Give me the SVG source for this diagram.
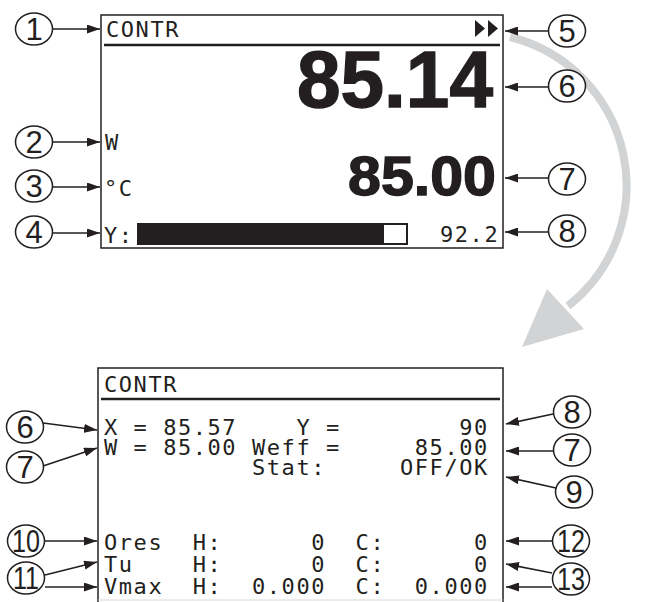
<svg xmlns="http://www.w3.org/2000/svg" width="666" height="602" viewBox="0 0 666 602">
<style>
.lcd{font-family:"DejaVu Sans Mono","Liberation Mono",monospace;font-size:22px;fill:#231f20;letter-spacing:1.55px}
.big{font-family:"Liberation Sans",Arial,sans-serif;font-weight:bold;fill:#231f20;stroke:#231f20;stroke-width:1.4}
.num{font-family:"Liberation Sans",Arial,sans-serif;font-size:31px;fill:#231f20;text-anchor:middle}
.ring{fill:#fff;stroke:#231f20;stroke-width:1.5}
.frame{fill:none;stroke:#231f20;stroke-width:1.5}
.conn line{stroke:#231f20;stroke-width:1.6;marker-end:url(#ah)}
</style>
<defs>
<marker id="ah" markerWidth="13" markerHeight="9" refX="13" refY="4.5" orient="auto" markerUnits="userSpaceOnUse">
<path d="M0,0 L13,4.5 L0,9 z" fill="#231f20"/>
</marker>
</defs>
<rect width="666" height="602" fill="#fff"/>

<!-- big gray transition arrow -->
<g id="transition">
<path d="M 510 37 A 153 153 0 0 1 568 306" fill="none" stroke="#d1d3d4" stroke-width="8"/>
<polygon points="547,289 584,329 522,347" fill="#d1d3d4"/>
</g>

<!-- top display -->
<g id="display-main">
<rect class="frame" x="101" y="15" width="402" height="233"/>
<line x1="104" y1="45" x2="500" y2="45" stroke="#231f20" stroke-width="2.5"/>
<text class="lcd" x="106" y="37">CONTR</text>
<polygon points="475,20 485,28.5 475,37" fill="#231f20"/>
<polygon points="488,20 498,28.5 488,37" fill="#231f20"/>
<text class="big" x="297" y="107" font-size="79" textLength="196" lengthAdjust="spacingAndGlyphs">85.14</text>
<text class="lcd" x="105" y="150">W</text>
<text class="lcd" x="104" y="196">°C</text>
<text class="big" x="348" y="195" font-size="56" textLength="148" lengthAdjust="spacingAndGlyphs">85.00</text>
<text class="lcd" x="104" y="243">Y:</text>
<rect x="137" y="223" width="246" height="22" fill="#231f20"/>
<rect x="383" y="224" width="24" height="20" fill="#fff" stroke="#231f20" stroke-width="2"/>
<text class="lcd" x="440" y="242">92.2</text>
</g>

<!-- bottom display -->
<g id="display-detail">
<path class="frame" d="M98,602 V368 H503 V602"/>
<line x1="98" y1="600" x2="503" y2="600" stroke="#d8d8d8" stroke-width="1"/>
<line x1="101" y1="399" x2="500" y2="399" stroke="#231f20" stroke-width="2.5"/>
<text class="lcd" x="104" y="392">CONTR</text>

<text class="lcd" x="104" y="435">X</text>
<text class="lcd" x="133.6" y="435">=</text>
<text class="lcd" x="163.2" y="435">85.57</text>
<text class="lcd" x="296.4" y="435">Y</text>
<text class="lcd" x="326" y="435">=</text>
<text class="lcd" x="459.2" y="435">90</text>

<text class="lcd" x="104" y="455">W</text>
<text class="lcd" x="133.6" y="455">=</text>
<text class="lcd" x="163.2" y="455">85.00</text>
<text class="lcd" x="252" y="455">Weff</text>
<text class="lcd" x="326" y="455">=</text>
<text class="lcd" x="414.8" y="455">85.00</text>

<text class="lcd" x="252" y="475">Stat:</text>
<text class="lcd" x="400" y="475">OFF/OK</text>

<text class="lcd" x="104" y="550">Ores</text>
<text class="lcd" x="192.8" y="550">H:</text>
<text class="lcd" x="311.2" y="550">0</text>
<text class="lcd" x="355.6" y="550">C:</text>
<text class="lcd" x="474" y="550">0</text>

<text class="lcd" x="104" y="572">Tu</text>
<text class="lcd" x="192.8" y="572">H:</text>
<text class="lcd" x="311.2" y="572">0</text>
<text class="lcd" x="355.6" y="572">C:</text>
<text class="lcd" x="474" y="572">0</text>

<text class="lcd" x="104" y="594">Vmax</text>
<text class="lcd" x="192.8" y="594">H:</text>
<text class="lcd" x="252" y="594">0.000</text>
<text class="lcd" x="355.6" y="594">C:</text>
<text class="lcd" x="414.8" y="594">0.000</text>
</g>

<!-- connectors -->
<g id="connectors" class="conn">
<line x1="53" y1="29" x2="100" y2="29"/>
<line x1="53" y1="142" x2="100" y2="142"/>
<line x1="53" y1="187" x2="100" y2="187"/>
<line x1="53" y1="233" x2="100" y2="233"/>
<line x1="548" y1="31" x2="505" y2="31"/>
<line x1="548" y1="87" x2="505" y2="87"/>
<line x1="548" y1="178" x2="505" y2="178"/>
<line x1="548" y1="232" x2="505" y2="232"/>
<line x1="43" y1="423" x2="97" y2="430"/>
<line x1="43" y1="466" x2="97" y2="448"/>
<line x1="45" y1="541" x2="97" y2="541"/>
<line x1="45" y1="575" x2="97" y2="562"/>
<line x1="45" y1="587" x2="97" y2="587"/>
<line x1="553" y1="414" x2="506" y2="424"/>
<line x1="553" y1="451" x2="506" y2="451"/>
<line x1="556" y1="488" x2="506" y2="477"/>
<line x1="552" y1="541" x2="506" y2="541"/>
<line x1="552" y1="573" x2="506" y2="564"/>
<line x1="552" y1="587" x2="506" y2="587"/>
</g>

<!-- callout markers -->
<g id="c1"><ellipse class="ring" cx="34" cy="29" rx="18.5" ry="16"/><text class="num" x="34" y="40">1</text></g>
<g id="c2"><ellipse class="ring" cx="34" cy="142" rx="18.5" ry="16"/><text class="num" x="34" y="153">2</text></g>
<g id="c3"><ellipse class="ring" cx="34" cy="186" rx="18.5" ry="16"/><text class="num" x="34" y="197">3</text></g>
<g id="c4"><ellipse class="ring" cx="34" cy="232" rx="18.5" ry="16"/><text class="num" x="34" y="243">4</text></g>
<g id="c5"><ellipse class="ring" cx="567" cy="31" rx="18.5" ry="16"/><text class="num" x="567" y="42">5</text></g>
<g id="c6a"><ellipse class="ring" cx="567" cy="86" rx="18.5" ry="16"/><text class="num" x="567" y="97">6</text></g>
<g id="c7a"><ellipse class="ring" cx="567" cy="179" rx="18.5" ry="16"/><text class="num" x="567" y="190">7</text></g>
<g id="c8a"><ellipse class="ring" cx="567" cy="231" rx="18.5" ry="16"/><text class="num" x="567" y="242">8</text></g>
<g id="c6b"><ellipse class="ring" cx="25" cy="427" rx="18.5" ry="16"/><text class="num" x="25" y="438">6</text></g>
<g id="c7b"><ellipse class="ring" cx="25" cy="467" rx="18.5" ry="16"/><text class="num" x="25" y="478">7</text></g>
<g id="c10"><ellipse class="ring" cx="26" cy="541" rx="18.5" ry="16"/><text class="num" x="26" y="552" textLength="28" lengthAdjust="spacingAndGlyphs">10</text></g>
<g id="c11"><ellipse class="ring" cx="26" cy="578" rx="18.5" ry="16"/><text class="num" x="26" y="589" textLength="26" lengthAdjust="spacingAndGlyphs">11</text></g>
<g id="c8b"><ellipse class="ring" cx="572" cy="412" rx="18.5" ry="16"/><text class="num" x="572" y="423">8</text></g>
<g id="c7c"><ellipse class="ring" cx="572" cy="450" rx="18.5" ry="16"/><text class="num" x="572" y="461">7</text></g>
<g id="c9"><ellipse class="ring" cx="574" cy="492" rx="18.5" ry="16"/><text class="num" x="574" y="503">9</text></g>
<g id="c12"><ellipse class="ring" cx="571" cy="541" rx="18.5" ry="16"/><text class="num" x="571" y="552" textLength="28" lengthAdjust="spacingAndGlyphs">12</text></g>
<g id="c13"><ellipse class="ring" cx="571" cy="579" rx="18.5" ry="16"/><text class="num" x="571" y="590" textLength="28" lengthAdjust="spacingAndGlyphs">13</text></g>
</svg>
